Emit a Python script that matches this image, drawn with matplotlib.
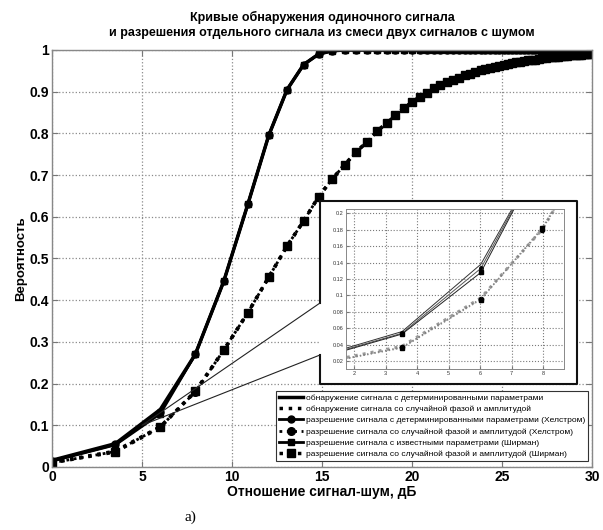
import matplotlib.pyplot as plt
from matplotlib.patches import Rectangle
from matplotlib.lines import Line2D
from matplotlib.ticker import FormatStrFormatter

plt.rcParams['font.family'] = ['Liberation Sans', 'DejaVu Sans']

# отношение сигнал-шум, дБ
snr_db = [0.00, 3.52, 6.02, 7.96, 9.54, 10.88, 12.04, 13.06, 13.98, 14.81,
          15.56, 16.26, 16.90, 17.50, 18.06, 18.59, 19.08, 19.55, 20.00, 20.42,
          20.83, 21.21, 21.58, 21.94, 22.28, 22.61, 22.92, 23.23, 23.52, 23.81,
          24.08, 24.35, 24.61, 24.86, 25.11, 25.34, 25.58, 25.80, 26.02, 26.24,
          26.44, 26.65, 26.85, 27.04, 27.23, 27.42, 27.60, 27.78, 27.96, 28.13,
          28.30, 28.46, 28.63, 28.79, 28.94, 29.10, 29.25, 29.40, 29.54, 29.69,
          29.83, 29.97]

# детерминированный сигнал
p_det = [0.016, 0.056, 0.138, 0.270, 0.445, 0.630, 0.795, 0.905, 0.965, 0.990,
         0.998, 1.0, 1.0, 1.0, 1.0, 1.0, 1.0, 1.0, 1.0, 1.0,
         1.0, 1.0, 1.0, 1.0, 1.0, 1.0, 1.0, 1.0, 1.0, 1.0,
         1.0, 1.0, 1.0, 1.0, 1.0, 1.0, 1.0, 1.0, 1.0, 1.0,
         1.0, 1.0, 1.0, 1.0, 1.0, 1.0, 1.0, 1.0, 1.0, 1.0,
         1.0, 1.0, 1.0, 1.0, 1.0, 1.0, 1.0, 1.0, 1.0, 1.0,
         1.0, 1.0]
p_res_helstrom = [0.015, 0.054, 0.133] + p_det[3:]
p_res_shirman = [0.014, 0.053, 0.128] + p_det[3:]

# случайная фаза и амплитуда
p_det_rand = [0.011, 0.038, 0.097, 0.180, 0.280, 0.370, 0.455, 0.530, 0.590, 0.648,
              0.690, 0.725, 0.755, 0.780, 0.805, 0.825, 0.845, 0.860, 0.875, 0.887,
              0.898, 0.908, 0.916, 0.923, 0.929, 0.934, 0.939, 0.943, 0.947, 0.951,
              0.954, 0.957, 0.960, 0.962, 0.964, 0.966, 0.968, 0.970, 0.972, 0.973,
              0.975, 0.976, 0.977, 0.979, 0.980, 0.981, 0.982, 0.983, 0.984, 0.984,
              0.985, 0.986, 0.986, 0.987, 0.988, 0.988, 0.989, 0.989, 0.990, 0.990,
              0.990, 0.991]
p_res_helstrom_rand = [0.010, 0.037, 0.096] + p_det_rand[3:]
p_res_shirman_rand = [0.010, 0.036, 0.095, 0.182] + p_det_rand[4:]

labels = [
    'обнаружение сигнала с детерминированными параметрами',
    'обнаружение сигнала со случайной фазой и амплитудой',
    'разрешение сигнала с детерминированными параметрами (Хелстром)',
    'разрешение сигнала со случайной фазой и амплитудой (Хелстром)',
    'разрешение сигнала с известными параметрами (Ширман)',
    'разрешение сигнала со случайной фазой и амплитудой (Ширман)',
]

series = [p_det, p_det_rand, p_res_helstrom, p_res_helstrom_rand,
          p_res_shirman, p_res_shirman_rand]
main_styles = [
    dict(ls='-', lw=2.5),
    dict(ls=':', lw=2.5),
    dict(ls='-', lw=2.0, marker='o', ms=5),
    dict(ls=':', lw=2.0, marker='o', ms=5.5),
    dict(ls='-', lw=2.0, marker='s', ms=4.5),
    dict(ls=':', lw=2.5, marker='s', ms=6),
]
inset_styles = [
    dict(ls='-', lw=0.7, color='#333333'),
    dict(ls=':', lw=2.2, color='#9a9a9a'),
    dict(ls='-', lw=0.7, color='#555555', marker='o', ms=2.5, mfc='k', mec='k'),
    dict(ls=':', lw=1.0, color='#777777', marker='o', ms=3, mfc='k', mec='k'),
    dict(ls='-', lw=0.7, color='#222222', marker='s', ms=2.5, mfc='k', mec='k'),
    dict(ls=':', lw=1.0, color='#888888', marker='s', ms=3, mfc='k', mec='k'),
]

fig = plt.figure(figsize=(6.03, 5.30), dpi=100)
ax = fig.add_axes([0.0862, 0.1189, 0.8956, 0.7868])

for y, st, lab in zip(series, main_styles, labels):
    ax.plot(snr_db, y, color='k', label=lab, **st)

ax.set_xlim(0, 30)
ax.set_ylim(0, 1)
ax.set_xticks([0, 5, 10, 15, 20, 25, 30])
ax.set_yticks([i / 10 for i in range(11)])
ax.yaxis.set_major_formatter(FormatStrFormatter('%g'))
ax.grid(True, ls=':', color='#8a8a8a', lw=0.9)
ax.set_axisbelow(True)
ax.tick_params(direction='in', top=True, right=True, length=4,
               labelsize=10, color='#777777', pad=2)
for lbl in ax.get_xticklabels() + ax.get_yticklabels():
    lbl.set_fontweight('bold')
for sp in ax.spines.values():
    sp.set_color('#888888')
    sp.set_linewidth(1.0)

ax.set_xlabel('Отношение сигнал-шум, дБ', fontsize=10, fontweight='bold', labelpad=1)
ax.set_ylabel('Вероятность', fontsize=9.5, fontweight='bold', labelpad=2)

leg = ax.legend(loc='lower right', bbox_to_anchor=(0.993, 0.014),
                borderaxespad=0, fontsize=6, labelspacing=0.42,
                handlelength=2.9, handletextpad=0.4, borderpad=0.35,
                fancybox=False, framealpha=1, edgecolor='#333333')
leg.get_frame().set_linewidth(0.8)

fig.text(0.534, 0.967, 'Кривые обнаружения одиночного сигнала',
         ha='center', va='center', fontsize=9, fontweight='bold')
fig.text(0.534, 0.937, 'и разрешения отдельного сигнала из смеси двух сигналов с шумом',
         ha='center', va='center', fontsize=9, fontweight='bold')
fig.text(190 / 603, 13 / 530, 'а)', ha='center', va='center',
         fontsize=11, family='Liberation Serif')

# рамка выноски
x0, x1 = 320 / 603, 577 / 603
ytop, ybot = 329 / 530, 146 / 530
ya_up, ya_low = 227 / 530, 175 / 530
tip = fig.transFigure.inverted().transform(ax.transData.transform((5, 0.1)))

fig.add_artist(Rectangle((x0, ybot), x1 - x0, ytop - ybot, transform=fig.transFigure,
                         facecolor='white', edgecolor='none', zorder=1))
fig.add_artist(Line2D([x0, x0, x1, x1, x0, x0], [ya_up, ytop, ytop, ybot, ybot, ya_low],
                      transform=fig.transFigure, color='#111111', lw=1.5, zorder=1.5))
fig.add_artist(Line2D([x0, tip[0], x0], [ya_low, tip[1], ya_up],
                      transform=fig.transFigure, color='#222222', lw=0.8, zorder=1.5))

# увеличенный фрагмент
ax_in = fig.add_axes([0.5733, 0.3032, 0.3625, 0.3019])
ax_in.set_zorder(3)
for y, st in zip(series, inset_styles):
    ax_in.plot(snr_db, y, **st)
ax_in.set_xlim(1.73, 8.67)
ax_in.set_ylim(0.01, 0.205)
ax_in.set_xticks([2, 3, 4, 5, 6, 7, 8])
ax_in.set_yticks([0.02, 0.04, 0.06, 0.08, 0.1, 0.12, 0.14, 0.16, 0.18, 0.2])
ax_in.yaxis.set_major_formatter(FormatStrFormatter('%g'))
ax_in.grid(True, ls=':', color='#7a7a7a', lw=0.8)
ax_in.set_axisbelow(True)
ax_in.tick_params(direction='in', length=2, labelsize=4, pad=1.5, color='#777777',
                  labelcolor='#333333')
for sp in ax_in.spines.values():
    sp.set_color('#888888')
    sp.set_linewidth(0.7)

fig.savefig('out.png', dpi=100)
